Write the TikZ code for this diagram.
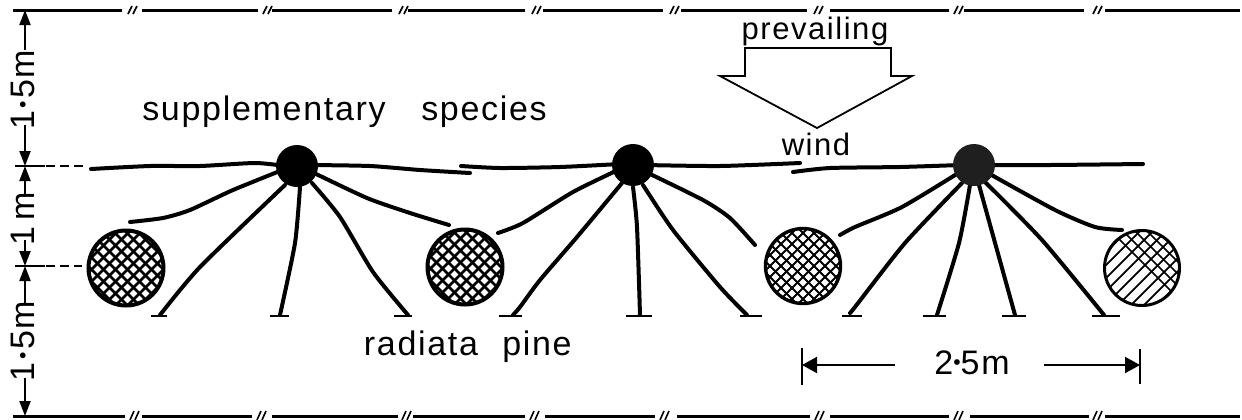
\documentclass[tikz,border=0pt]{standalone}
\usepackage{fontspec}
\usepackage{graphicx}
\setmainfont{Liberation Sans}
\newfontfamily\lab[LetterSpace=5]{Liberation Sans}
\usetikzlibrary{arrows.meta}
\newcommand{\bigdot}{\raisebox{.12em}{\scalebox{.62}{•}}}
\newcommand{\sidedot}{\kern.07em\bigdot\kern.07em}
\tikzset{
  px/.style={x=0.5pt,y=-0.5pt},
  rootline/.style={line width=2pt,line cap=round,line join=round},
  rule/.style={line width=1.5pt},
  slash/.style={line width=0.8pt},
  thin rule/.style={line width=1pt},
  chain/.style={line width=1pt,-{Triangle[length=7.5pt,width=5.5pt]}},
  span/.style={line width=1pt,-{Triangle[length=7.5pt,width=8pt]}},
  bar/.style={line width=1.1pt},
  lbl/.style={inner sep=0pt,anchor=base,font=\fontsize{17}{20}\lab},
  small lbl/.style={inner sep=0pt,anchor=base,font=\fontsize{15.5}{18}\lab},
  trunk/.style={circle,fill=black,draw=none,inner sep=0pt,minimum size=21pt},
  crown/.style={circle,draw=black,line width=2pt,inner sep=0pt,minimum size=37.5pt},
  crossA/.style={crown,path picture={
    \foreach \d in {-72,-60,...,72}{
      \draw[line width=1.4pt,shift={(path picture bounding box.center)}] (\d-50+3,50)--(\d+50+3,-50);
      \draw[line width=1.4pt,shift={(path picture bounding box.center)}] (\d-50,-50)--(\d+50,50);}}},
  crossB/.style={crown,line width=1.7pt,path picture={
    \foreach \d in {-77,-66,...,77}{
      \draw[line width=0.95pt,shift={(path picture bounding box.center)}] (\d-50,50)--(\d+50,-50);
      \draw[line width=0.95pt,shift={(path picture bounding box.center)}] (\d-50,-50)--(\d+50,50);}}},
  crossC/.style={crown,line width=1.5pt,path picture={
    \foreach \d in {-78,-65,...,78}{
      \draw[line width=0.9pt,shift={(path picture bounding box.center)}] (\d-50,50)--(\d+50,-50);}
    \foreach \d in {6,18,...,90}{
      \draw[line width=0.75pt,shift={(path picture bounding box.center)}] (\d-50,-50)--(\d+50,50);}}},
}
\newcommand{\rootpath}[1]{\draw[rootline] plot[smooth,tension=0.4] coordinates {#1};}
\begin{document}
\begin{tikzpicture}[px]
\useasboundingbox (0,0) rectangle (1242,419);
\fill[white] (0,0) rectangle (1242,419);

% border rules with breaks
\foreach \a/\b in {13/122,142/258,272/392,408/525,543/663,681/807,830/949,964/1084,1105/1240}
  \draw[rule] (\a,10)--(\b,10);
\foreach \x in {129,264,400,533,671,815,955,1094}{
  \draw[slash] (\x-1,14)--(\x+3,6);
  \draw[slash] (\x+4,14)--(\x+8,6);}
\foreach \a/\b in {13/125,142/252,272/398,413/525,545/655,677/810,830/949,970/1089,1105/1240}
  \draw[rule] (\a,416)--(\b,416);
\foreach \x in {131,258,403,531,661,816,955,1094}{
  \draw[slash] (\x-1,420)--(\x+3,411);
  \draw[slash] (\x+4,420)--(\x+8,411);}

% left dimension chain
\coordinate (d0) at (25,10);
\coordinate (d1) at (25,166);
\coordinate (d2) at (25,266);
\coordinate (d3) at (25,416);
\draw[thin rule] (15,166)--(45,166);
\draw[thin rule] (15,266)--(45,266);
\draw[thin rule,dash pattern=on 4.5pt off 2.5pt] (46,166)--(85,166);
\draw[thin rule,dash pattern=on 4.5pt off 2.5pt] (46,266)--(82,266);
\draw[chain] (25,50)--(d0);
\draw[chain] (25,125)--(d1);
\draw[chain] (25,197)--(d1);
\draw[chain] (25,240)--(d2);
\draw[chain] (25,303)--(d2);
\draw[chain] (25,378)--(d3);
\node[lbl,rotate=90] (m1) at (34,90) {1\sidedot5m};
\node[lbl,rotate=90] (m2) at (34,219) {1\,m};
\node[lbl,rotate=90] (m3) at (34,341) {1\sidedot5m};

% tree roots, behind trunks
\rootpath{(91,169) (150,166) (200,166) (255,163) (285,166)}
\rootpath{(310,165) (370,166) (420,170) (470,173)}
\rootpath{(285,169) (233,190) (190,210) (163,218) (130,222)}
\rootpath{(285,185) (200,267) (160,315)}
\rootpath{(300,187) (295,243) (280,315)}
\rootpath{(312,183) (340,217) (373,272) (408,315)}
\rootpath{(312,172) (367,198) (410,213) (449,225)}
\rootpath{(461,166) (500,168) (560,167) (620,164)}
\rootpath{(645,165) (720,166) (800,163)}
\rootpath{(620,169) (573,192) (523,223) (498,233)}
\rootpath{(622,183) (577,237) (540,280) (520,307) (513,315)}
\rootpath{(633,187) (637,227) (640,315)}
\rootpath{(643,185) (673,230) (720,287) (747,315)}
\rootpath{(648,173) (703,200) (730,218) (755,245)}
\rootpath{(793,172) (830,168) (900,167) (960,165)}
\rootpath{(985,165) (1050,165) (1143,164)}
\rootpath{(960,172) (902,207) (855,227) (840,235)}
\rootpath{(962,183) (905,243) (855,307) (850,313)}
\rootpath{(970,185) (959,243) (937,315)}
\rootpath{(979,185) (1015,315)}
\rootpath{(985,182) (1042,240) (1104,315)}
\rootpath{(988,173) (1055,210) (1095,227) (1122,230)}
\foreach \a/\b in {151/167,270/289,394/412,499/522,626/652,740/762,842/862,923/946,1002/1026,1092/1120}
  \draw[bar] (\a,316)--(\b,316);

% supplementary species trunks
\node[trunk] (s1) at (297,166) {};
\node[trunk] (s2) at (633,165) {};
\node[trunk,fill=black!88] (s3) at (974,165) {};

% radiata pine crowns
\node[crossA] (r1) at (126,268) {};
\node[crossA] (r2) at (465,267) {};
\node[crossB] (r3) at (803,266) {};
\node[crossC] (r4) at (1142,268) {};

% prevailing wind arrow
\draw[line width=0.9pt,line join=miter] (745,48)--(891,48)--(891,76)--(912,76)--(817,128)--(720,76)--(745,76)--cycle;
\node[small lbl] (t1) at (815,39) {prevailing};
\node[small lbl] (t2) at (816,155) {wind};

\node[lbl] (t3) at (264,120) {supplementary};
\node[lbl] (t4) at (484,120) {species};
\node[lbl] (t5) at (421,355) {radiata};
\node[lbl] (t6) at (537,355) {pine};
\node[lbl] (t7) at (972,374) {2\bigdot5m};

% spacing dimension
\coordinate (e1) at (802,365);
\coordinate (e2) at (1140,365);
\draw[thin rule] (802,348)--(e1)--(802,385);
\draw[thin rule] (1140,349)--(e2)--(1140,384);
\draw[span] (895,365)--(e1);
\draw[span] (1044,365)--(e2);
\end{tikzpicture}
\end{document}
